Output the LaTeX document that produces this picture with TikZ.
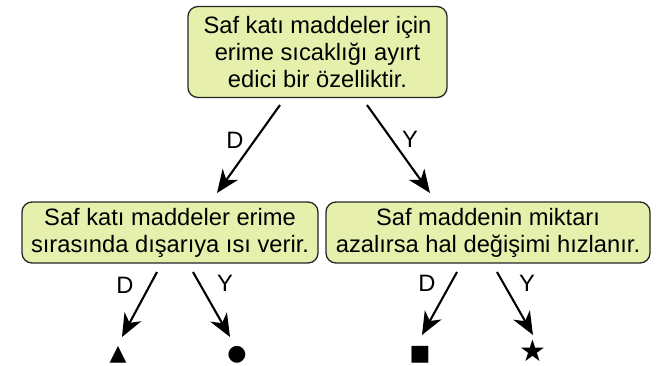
\documentclass[tikz,border=0pt]{standalone}
\usepackage{fontspec}
\setmainfont{Liberation Sans}
\newfontfamily\symfont{DejaVu Sans}
\usetikzlibrary{arrows.meta}
\definecolor{boxfill}{RGB}{230,240,172}
\begin{document}
\begin{tikzpicture}[x=1pt,y=-1pt,
  qbox/.style={draw=black!85,line width=1.3pt,fill=boxfill,rounded corners=10pt,
    align=center,inner sep=0pt,font=\fontsize{23.7}{27}\selectfont},
  arr/.style={line width=2.1pt,-{Stealth[length=23pt,width=19pt,inset=7pt]}},
  lbl/.style={font=\fontsize{23.7}{27}\selectfont,inner sep=0pt},
  sym/.style={font=\symfont\fontsize{22}{22}\selectfont,inner sep=0pt}]
\useasboundingbox (0,0) rectangle (662,365);
\node[qbox,minimum width=259pt,minimum height=91pt] (top) at (317.5,52)
  {Saf katı maddeler için\\erime sıcaklığı ayırt\\edici bir özelliktir.};
\node[qbox,minimum width=296pt,minimum height=61pt] (ml) at (170,232.5)
  {Saf katı maddeler erime\\sırasında dışarıya ısı verir.};
\node[qbox,minimum width=324pt,minimum height=61pt] (mr) at (488,232.5)
  {Saf maddenin miktarı\\azalırsa hal değişimi hızlanır.};
\coordinate (t1) at (280,105); \coordinate (t1e) at (217,193);
\coordinate (t2) at (367,105); \coordinate (t2e) at (430,193);
\coordinate (l1) at (157,272); \coordinate (l1e) at (122,337);
\coordinate (l2) at (193,272); \coordinate (l2e) at (230,337);
\coordinate (r1) at (457,272); \coordinate (r1e) at (422,335);
\coordinate (r2) at (497,272); \coordinate (r2e) at (533,335);
\draw[arr] (t1) -- (t1e);
\draw[arr] (t2) -- (t2e);
\draw[arr] (l1) -- (l1e);
\draw[arr] (l2) -- (l2e);
\draw[arr] (r1) -- (r1e);
\draw[arr] (r2) -- (r2e);
\node[lbl] (dt) at (235,140) {D};
\node[lbl] (yt) at (410,139) {Y};
\node[lbl] (dl) at (125,285) {D};
\node[lbl] (yl) at (225,283) {Y};
\node[lbl] (dr) at (427,283) {D};
\node[lbl] (yr) at (527,283) {Y};
\node[sym] (s1) at (118,355) {▲};
\node[sym] (s2) at (237,355) {●};
\node[sym] (s3) at (420,355) {■};
\node[sym,font=\symfont\fontsize{30}{30}\selectfont] (s4) at (533,351) {★};
\end{tikzpicture}
\end{document}
